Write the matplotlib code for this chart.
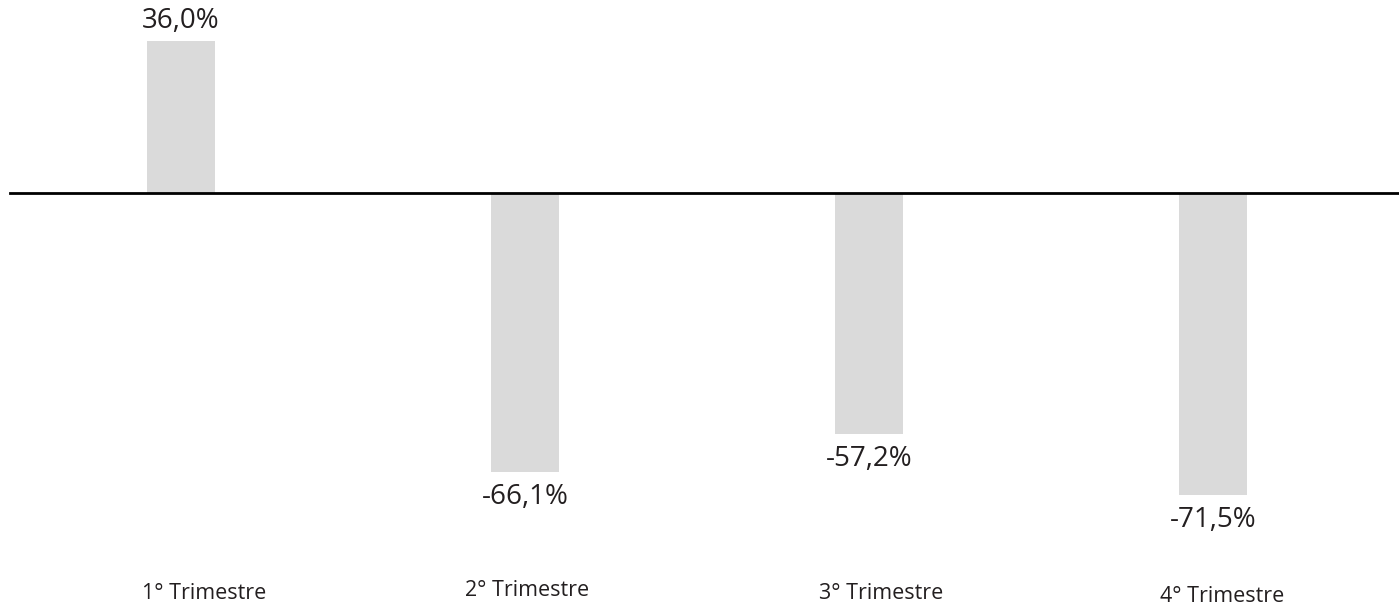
import matplotlib
matplotlib.use('Agg')
import matplotlib.pyplot as plt

# data
categories = ['1° Trimestre', '2° Trimestre', '3° Trimestre', '4° Trimestre']
values = [36.0, -66.1, -57.2, -71.5]
value_labels = ['36,0%', '-66,1%', '-57,2%', '-71,5%']

plt.rcParams['font.family'] = ['Open Sans', 'DejaVu Sans']

fig = plt.figure(figsize=(13.99, 6.08), dpi=100)
ax = fig.add_axes([0, 0, 1, 1])

x = list(range(len(categories)))
ax.bar(x, values, width=0.198, color='#dadada', zorder=1)

# zero line
ax.axhline(0, xmin=0.007, xmax=1, color='black', linewidth=2, zorder=2)

text_color = '#231f20'
for xi, v, lab in zip(x, values, value_labels):
    if v >= 0:
        ax.text(xi, v + 1.5, lab, ha='center', va='bottom', fontsize=20, color=text_color)
    else:
        ax.text(xi, v - 2.6, lab, ha='center', va='top', fontsize=20, color=text_color)

# category labels (slightly staggered as in the original)
cat_dx = [0.067, 0.006, 0.035, 0.026]
cat_y = [-94.9, -94.1, -94.8, -95.6]
for xi, cat, dx, cy in zip(x, categories, cat_dx, cat_y):
    ax.text(xi + dx, cy, cat, ha='center', va='center', fontsize=15.5, color=text_color)

ax.set_xlim(-0.526, 3.541)
ax.set_ylim(-98.34, 45.73)
ax.axis('off')

fig.savefig('out.png', dpi=100, facecolor='white')
